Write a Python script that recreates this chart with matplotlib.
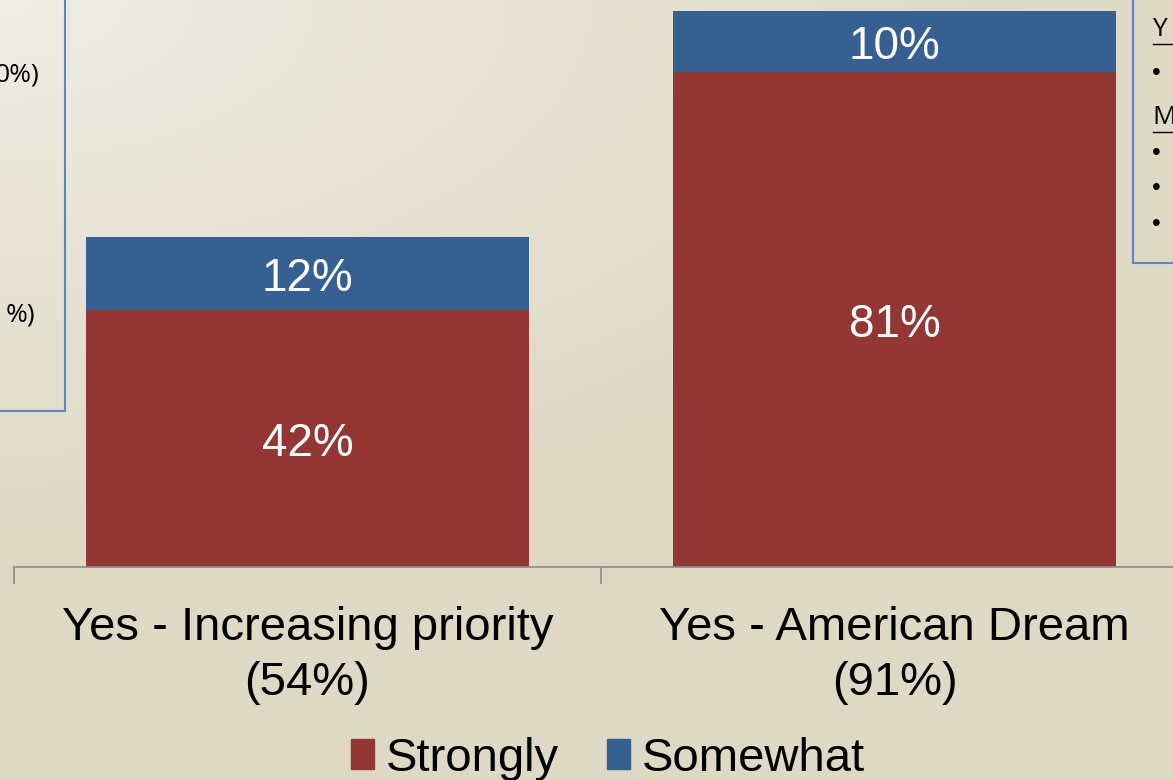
import matplotlib.pyplot as plt
import numpy as np
from matplotlib.patches import Patch, Rectangle

categories = ["Yes - Increasing priority\n(54%)", "Yes - American Dream\n(91%)"]
strongly = [42, 81]
somewhat = [12, 10]
series_names = ["Strongly", "Somewhat"]

RED = "#943634"
BLUE = "#366092"
BOX = "#5b87c5"

plt.rcParams["font.family"] = ["Liberation Sans", "DejaVu Sans"]

W, H = 1173, 780
fig = plt.figure(figsize=(W / 100, H / 100), dpi=100)

# slide background: soft gradient, lighter in the top-left corner
bg = fig.add_axes([0, 0, 1, 1], zorder=-2)
yy, xx = np.mgrid[0:1:200j, 0:1:300j]
t = np.clip(np.sqrt((xx * 1.2) ** 2 + (yy * 1.6) ** 2) / 1.1, 0, 1)
light = np.array([239, 237, 228]) / 255
dark = np.array([222, 217, 197]) / 255
img = light[None, None, :] * (1 - t[..., None]) + dark[None, None, :] * t[..., None]
bg.imshow(img, extent=[0, W, H, 0], aspect="auto")
bg.set_xlim(0, W)
bg.set_ylim(H, 0)
bg.axis("off")

# partially visible side boxes of the slide
side_font = ["Open Sans", "DejaVu Sans"]
bg.add_patch(Rectangle((-10, -10), 75, 421, fill=False, ec=BOX, lw=1.5))
bg.text(39, 75, "0%)", fontsize=19, ha="right", va="center", family=side_font)
bg.text(35, 315, "%)", fontsize=19, ha="right", va="center", family=side_font)
bg.add_patch(Rectangle((1133, -10), 60, 273, fill=False, ec=BOX, lw=1.5))
for y, s in [(30, "Y"), (118, "M")]:
    bg.text(1152, y, s, fontsize=19, va="center", family=side_font)
    bg.plot([1153, 1173], [y + 14, y + 14], color="black", lw=1)
for y in (73, 153, 188, 224):
    bg.text(1152, y, "\u2022", fontsize=18, va="center")

# main chart
ax = fig.add_axes([14 / W, 213 / H, 1174 / W, 611 / H])
ax.patch.set_alpha(0)
x = np.arange(len(categories))
bw = 0.756
b1 = ax.bar(x, strongly, bw, color=RED, label=series_names[0])
b2 = ax.bar(x, somewhat, bw, bottom=strongly, color=BLUE, label=series_names[1])
for bars, vals, base in [(b1, strongly, [0, 0]), (b2, somewhat, strongly)]:
    for rect, v, b in zip(bars, vals, base):
        ax.text(rect.get_x() + rect.get_width() / 2, b + v / 2, f"{v}%",
                ha="center", va="center_baseline", color="white", fontsize=33)

ax.set_xlim(-0.5, 1.5)
ax.set_ylim(0, 100)
ax.set_xticks(x)
ax.set_xticklabels(categories, fontsize=34, linespacing=1.32)
ax.set_xticks([-0.5, 0.5, 1.5], minor=True)
ax.tick_params(axis="x", which="major", length=0, pad=28)
ax.tick_params(axis="x", which="minor", length=12, color="#8c8c8c", width=1.2)
ax.set_yticks([])
for side in ("left", "right", "top"):
    ax.spines[side].set_visible(False)
ax.spines["bottom"].set_color("#8c8c8c")
ax.spines["bottom"].set_linewidth(1.2)

handles = [Patch(color=RED, label=series_names[0]), Patch(color=BLUE, label=series_names[1])]
fig.legend(handles=handles, loc="center", bbox_to_anchor=(608 / W, 1 - 759 / H),
           ncol=2, frameon=False, fontsize=34, handlelength=0.5, handleheight=0.6,
           handletextpad=0.25, columnspacing=1.0)

fig.savefig("out.png", dpi=100)
